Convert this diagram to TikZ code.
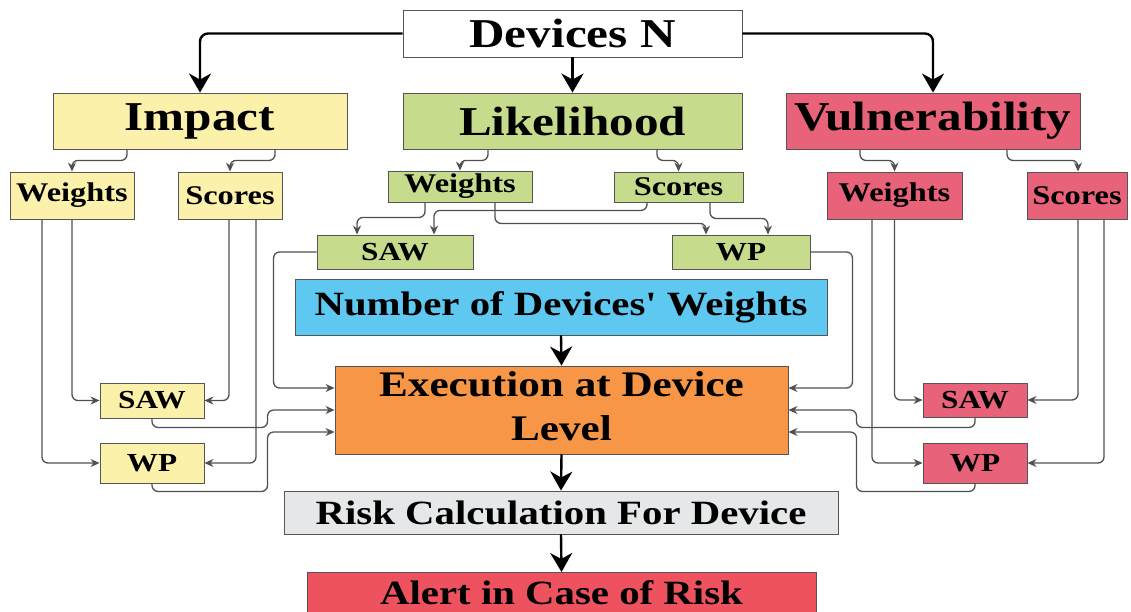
\documentclass[tikz,border=0pt]{standalone}
\usepackage{fontspec}
\setmainfont{Liberation Serif}[Ligatures=TeXOff]
\usetikzlibrary{arrows.meta,calc}
\definecolor{cimp}{RGB}{252,241,170}
\definecolor{clik}{RGB}{198,220,140}
\definecolor{cvul}{RGB}{232,98,122}
\definecolor{cblue}{RGB}{95,200,240}
\definecolor{cexec}{RGB}{247,150,70}
\definecolor{crisk}{RGB}{230,231,232}
\definecolor{calert}{RGB}{238,82,94}
\definecolor{cborder}{RGB}{85,85,85}
\definecolor{cline}{RGB}{80,80,80}
\newcommand{\st}[1]{\scalebox{1.2}[1]{#1}}
\begin{document}
\begin{tikzpicture}[x=1pt,y=-1pt,
  box/.style={draw=cborder,line width=0.9pt,inner sep=0pt,align=center},
  fbig/.style={font=\bfseries\fontsize{41}{46}\selectfont},
  fmid/.style={font=\bfseries\fontsize{34}{40}\selectfont},
  fsmall/.style={font=\bfseries\fontsize{27}{30}\selectfont},
  fsaw/.style={font=\bfseries\fontsize{26}{30}\selectfont},
  thinarrow/.style={draw=cline,line width=1.3pt,rounded corners=6pt,-{Stealth[length=9pt,width=8pt]}},
  thickarrow/.style={draw=black,line width=2.4pt,rounded corners=8pt,-{Stealth[length=19pt,width=22pt,inset=6pt]}}]
\useasboundingbox (0,0) rectangle (1131,612);
\clip (0,0) rectangle (1131,612);
\fill[white] (0,0) rectangle (1131,612);

% top level
\node[box,fill=white,fbig,minimum width=339pt,minimum height=47pt] (dev) at (572.5,33.5) {\st{Devices N}};
\node[box,fill=cimp,fbig,minimum width=294pt,minimum height=56pt] (imp) at (200,121) {\st{Impact}};
\node[box,fill=clik,fbig,minimum width=339pt,minimum height=56pt] (lik) at (572.5,121) {\st{Likelihood}};
\node[box,fill=cvul,fbig,minimum width=294pt,minimum height=56pt] (vul) at (933,121) {\st{Vulnerability}};

% weights / scores
\node[box,fill=cimp,fsmall,minimum width=124pt,minimum height=47pt] (iw) at (72,195.5) {\st{Weights}};
\node[box,fill=cimp,fsmall,minimum width=104pt,minimum height=47pt] (is) at (230,195.5) {\st{Scores}};
\node[box,fill=clik,fsmall,minimum width=144pt,minimum height=31pt] (lw) at (460,186.5) {\st{Weights}};
\node[box,fill=clik,fsmall,minimum width=129pt,minimum height=30pt] (ls) at (678.5,187) {\st{Scores}};
\node[box,fill=cvul,fsmall,minimum width=135pt,minimum height=47pt] (vw) at (894.5,195.5) {\st{Weights}};
\node[box,fill=cvul,fsmall,minimum width=100pt,minimum height=47pt] (vs) at (1077,195.5) {\st{Scores}};

% SAW / WP
\node[box,fill=clik,fsaw,minimum width=156pt,minimum height=34pt] (lsaw) at (395,252) {\st{SAW}};
\node[box,fill=clik,fsaw,minimum width=138pt,minimum height=34pt] (lwp) at (741,252) {\st{WP}};
\node[box,fill=cimp,fsaw,minimum width=104pt,minimum height=35pt] (isaw) at (152,400.5) {\st{SAW}};
\node[box,fill=cimp,fsaw,minimum width=104pt,minimum height=40pt] (iwp) at (152,463) {\st{WP}};
\node[box,fill=cvul,fsaw,minimum width=104pt,minimum height=34pt] (vsaw) at (975,400) {\st{SAW}};
\node[box,fill=cvul,fsaw,minimum width=104pt,minimum height=40pt] (vwp) at (975,463) {\st{WP}};

% central column
\node[box,fill=cblue,fmid,minimum width=532pt,minimum height=56pt] (blue) at (561,307) {\st{Number of Devices' Weights}};
\node[box,fill=cexec,font=\bfseries\fontsize{36}{44}\selectfont,minimum width=453pt,minimum height=88pt] (exec) at (561.5,410) {\st{\begin{tabular}{@{}c@{}}Execution at Device\\Level\end{tabular}}};
\node[box,fill=crisk,fmid,minimum width=554pt,minimum height=43pt] (risk) at (561,512.5) {\st{Risk Calculation For Device}};
\node[box,fill=calert,fmid,minimum width=509pt,anchor=north,text height=23pt,text depth=30pt,inner ysep=9pt] (alert) at (561.5,572) {\st{Alert in Case of Risk}};

% thick arrows
\draw[thickarrow] (dev.west) -| (imp.north);
\draw[thickarrow] (dev.south) -- (lik.north);
\draw[thickarrow] (dev.east) -| (vul.north);
\draw[thickarrow] (blue.south) -- (exec.north);
\draw[thickarrow] (exec.south) -- (risk.north);
\draw[thickarrow] (risk.south) -- (alert.north);

% top-level to weights/scores
\draw[thinarrow] ([xshift=-73pt]imp.south) -- ++(0,11) -| (iw.north);
\draw[thinarrow] ([xshift=75pt]imp.south) -- ++(0,11) -| (is.north);
\draw[thinarrow] ([xshift=-84.5pt]lik.south) -- ++(0,11) -| (lw.north);
\draw[thinarrow] ([xshift=84.5pt]lik.south) -- ++(0,11) -| (ls.north);
\draw[thinarrow] ([xshift=-73pt]vul.south) -- ++(0,11) -| (vw.north);
\draw[thinarrow] ([xshift=74pt]vul.south) -- ++(0,11) -| ([xshift=1pt]vs.north);

% likelihood weights/scores to SAW/WP
\draw[thinarrow] ([xshift=-35pt]lw.south) -- ++(0,15) -| ([xshift=-38pt]lsaw.north);
\draw[thinarrow] ([xshift=-31.5pt]ls.south) -- ++(0,8) -| ([xshift=39pt]lsaw.north);
\draw[thinarrow] ([xshift=35pt]lw.south) -- ++(0,21) -| ([xshift=-35pt]lwp.north);
\draw[thinarrow] ([xshift=31.5pt]ls.south) -- ++(0,16) -| ([xshift=27pt]lwp.north);

% impact weights/scores to SAW/WP
\draw[thinarrow] (iw.south) |- (isaw.west);
\draw[thinarrow] ([xshift=-30pt]iw.south) |- (iwp.west);
\draw[thinarrow] ([xshift=-1pt]is.south) |- (isaw.east);
\draw[thinarrow] ([xshift=26pt]is.south) |- (iwp.east);

% vulnerability weights/scores to SAW/WP
\draw[thinarrow] (vw.south) |- (vsaw.west);
\draw[thinarrow] ([xshift=-22.5pt]vw.south) |- (vwp.west);
\draw[thinarrow] ([xshift=1pt]vs.south) |- (vsaw.east);
\draw[thinarrow] ([xshift=27pt]vs.south) |- (vwp.east);

% into execution
\draw[thinarrow] (lsaw.west) -| ([xshift=-61pt,yshift=22pt]exec.west) -- ([yshift=22pt]exec.west);
\draw[thinarrow] (isaw.south) -- ++(0,9) -| ([xshift=-67pt]exec.west) -- (exec.west);
\draw[thinarrow] (iwp.south) -- ++(0,8) -| ([xshift=-67pt,yshift=-22pt]exec.west) -- ([yshift=-22pt]exec.west);
\draw[thinarrow] (lwp.east) -| ([xshift=64pt,yshift=22pt]exec.east) -- ([yshift=22pt]exec.east);
\draw[thinarrow] (vsaw.south) -- ++(0,10) -| ([xshift=68pt]exec.east) -- (exec.east);
\draw[thinarrow] (vwp.south) -- ++(0,8) -| ([xshift=68pt,yshift=-22pt]exec.east) -- ([yshift=-22pt]exec.east);
\end{tikzpicture}
\end{document}
